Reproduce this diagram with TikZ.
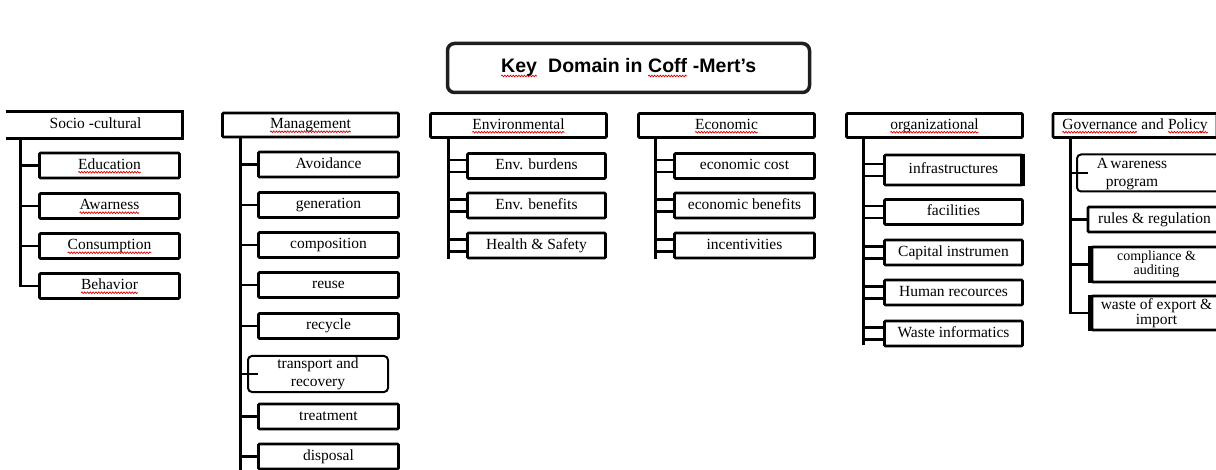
\documentclass[tikz,border=0pt]{standalone}
\usepackage{fontspec}
\setmainfont{Liberation Serif}
\newfontfamily\headfont{Liberation Sans}
\usetikzlibrary{decorations.pathmorphing}

% red wavy underline under a word
\newcommand{\spl}[1]{\tikz[baseline=(w.base), x=1pt, y=1pt]{%
  \node[inner sep=0pt, outer sep=0pt, minimum width=0pt, minimum height=0pt,
        text height={}, text depth={},
        draw=none, rounded corners=0pt, anchor=base](w){#1};%
  \draw[splline]([yshift=-3pt]w.base west)--([yshift=-3pt]w.base east);}}

\tikzset{
  splline/.style={draw=red!85!black, line width=0.7pt, rounded corners=0pt, decorate,
    decoration={snake, segment length=2.8pt, amplitude=0.85pt}},
  box/.style={draw, line width=2.8pt, rounded corners=1pt, inner sep=1pt, align=center,
    font=\fontsize{15.5}{13}\selectfont, minimum height=25pt, minimum width=140pt,
    text height=10.5pt, text depth=3pt},
  twoline/.style={text height={}, text depth={}},
  hdr/.style={box, minimum height=24pt, minimum width=176pt},
  soft/.style={box, twoline, line width=2pt, rounded corners=4pt, font=\fontsize{15.5}{18}\selectfont},
  trunk/.style={line width=3pt},
  stub/.style={line width=2.6pt},
  txt/.style={inner sep=0pt, align=center, font=\fontsize{15.5}{18}\selectfont},
}

\begin{document}
\begin{tikzpicture}[x=1pt,y=-1pt, line join=miter]
\useasboundingbox (0,0) rectangle (1216,470);

% title
\node[draw=black!88, line width=3.5pt, rounded corners=7pt, minimum width=362pt,
  minimum height=49pt, text height=14pt, text depth=4pt,
  font=\headfont\bfseries\fontsize{19.5}{19.5}\selectfont]
  (title) at (628.5,68) {\spl{Key}\ \ Domain in \spl{Coff} -Mert’s};

% trunk positions
\coordinate (t1) at (20,0);
\coordinate (t2) at (240,0);
\coordinate (t3) at (448,0);
\coordinate (t4) at (655,0);
\coordinate (t5) at (863,0);
\coordinate (t6) at (1070,0);

% ---- Socio-cultural
\node[hdr, draw=none, minimum width=171pt] (s0) at (95.5,125) {Socio -cultural};
\draw[line width=2.6pt] ([xshift=-3pt]s0.north west) -- (s0.north east) -- (s0.south east) -- ([xshift=-3pt]s0.south west);
\node[box] (s1) at (109.5,165.5) {\spl{Education}};
\node[box] (s2) at (109.5,206) {\spl{Awarness}};
\node[box] (s3) at (109.5,246) {\spl{Consumption}};
\node[box] (s4) at (109.5,286) {\spl{Behavior}};
\coordinate (e1) at (t1 |- s4.west);
\draw[trunk] (t1 |- s0.south) -- ([yshift=-1.3pt]e1);
\foreach \n in {s1,s2,s3,s4} \draw[stub] (t1 |- \n.west) -- (\n.west);

% ---- Management
\node[hdr] (m0) at (310.5,125) {\spl{Management}};
\node[box] (m1) at (328.5,164.5) {Avoidance};
\node[box] (m2) at (328.5,205) {generation};
\node[box] (m3) at (328.5,245) {composition};
\node[box] (m4) at (328.5,285) {reuse};
\node[box] (m5) at (328.5,326) {recycle};
\node[soft, minimum width=140pt, minimum height=36pt] (m6) at (318,374) {transport and\\recovery};
\node[box] (m7) at (328.5,416.5) {treatment};
\node[box] (m8) at (328.5,456.5) {disposal};
\coordinate (e2) at (240,475);
\draw[trunk] (t2 |- m0.south) -- (e2);
\foreach \n in {m1,m2,m3,m4,m5,m7,m8} \draw[stub] (t2 |- \n.west) -- (\n.west);
\draw[stub] (t2 |- m6.west) -- ([xshift=11pt]m6.west);

% ---- Environmental
\node[hdr] (v0) at (518.5,125.5) {\spl{Environmental}};
\node[box, minimum width=138pt] (v1) at (536.5,166) {Env. burdens};
\node[box, minimum width=138pt] (v2) at (536.5,205.5) {Env. benefits};
\node[box, minimum width=138pt] (v3) at (536.5,245.5) {Health \& Safety};
\coordinate (e3) at (448,259);
\draw[trunk] (t3 |- v0.south) -- (e3);
\foreach \n in {v1,v2,v3} {
  \draw[stub] ([yshift=6pt]t3 |- \n.west) -- ([yshift=6pt]\n.west);
  \draw[stub] ([yshift=-6pt]t3 |- \n.west) -- ([yshift=-6pt]\n.west);
}

% ---- Economic
\node[hdr] (c0) at (726.5,125.5) {\spl{Economic}};
\node[box] (c1) at (744.5,166) {economic cost};
\node[box] (c2) at (744.5,205.5) {economic benefits};
\node[box] (c3) at (744.5,245.5) {incentivities};
\coordinate (e4) at (655,259);
\draw[trunk] (t4 |- c0.south) -- (e4);
\foreach \n in {c1,c2,c3} {
  \draw[stub] ([yshift=6pt]t4 |- \n.west) -- ([yshift=6pt]\n.west);
  \draw[stub] ([yshift=-6pt]t4 |- \n.west) -- ([yshift=-6pt]\n.west);
}

% ---- organizational
\node[hdr] (o0) at (934.5,125.5) {\spl{organizational}};
\node[box, minimum width=138pt, minimum height=30pt] (o1) at (953.5,170) {infrastructures};
\draw[line width=5pt] ([xshift=-1pt]o1.north east) -- ([xshift=-1pt]o1.south east);
\node[box, minimum width=138pt] (o2) at (953.5,212) {facilities};
\node[box, minimum width=138pt] (o3) at (953.5,252.5) {Capital instrumen};
\node[box, minimum width=138pt] (o4) at (953.5,292.5) {Human recources};
\node[box, minimum width=138pt] (o5) at (953.5,333.5) {Waste informatics};
\coordinate (e5) at (863,345);
\draw[trunk] (t5 |- o0.south) -- (e5);
\foreach \n in {o1,o2,o3,o4,o5} {
  \draw[stub] ([yshift=6pt]t5 |- \n.west) -- ([yshift=6pt]\n.west);
  \draw[stub] ([yshift=-6pt]t5 |- \n.west) -- ([yshift=-6pt]\n.west);
}

% ---- Governance and Policy
\node[hdr, minimum width=164pt] (g0) at (1135,125.5) {\spl{Governance} and \spl{Policy}};
\node[soft, minimum width=144pt, minimum height=37pt] (g1) at (1149,173) {};
\node[txt] (g1t) at (1132,174) {A\hspace{2.5pt}wareness\\program};
\node[box, minimum width=133pt] (g2) at (1154.5,219.5) {rules \& regulation};
\node[box, twoline, minimum width=129pt, minimum height=35pt, font=\fontsize{14}{12.5}\selectfont]
  (g3) at (1156.5,264.5) {compliance \&\\auditing};
\node[box, twoline, minimum width=129pt, minimum height=34pt] (g4) at (1156.5,313) {waste of export \&\\import};
\draw[line width=5pt] (g3.north west) -- (g3.south west);
\draw[line width=5pt] (g4.north west) -- (g4.south west);
\coordinate (e6) at (1070,313);
\draw[trunk] (t6 |- g0.south) -- ([yshift=-1.3pt]e6);
\draw[stub] (t6 |- g1.west) -- ([xshift=12pt]g1.west);
\foreach \n in {g2,g3,g4} \draw[stub] (t6 |- \n.west) -- (\n.west);
\end{tikzpicture}
\end{document}
